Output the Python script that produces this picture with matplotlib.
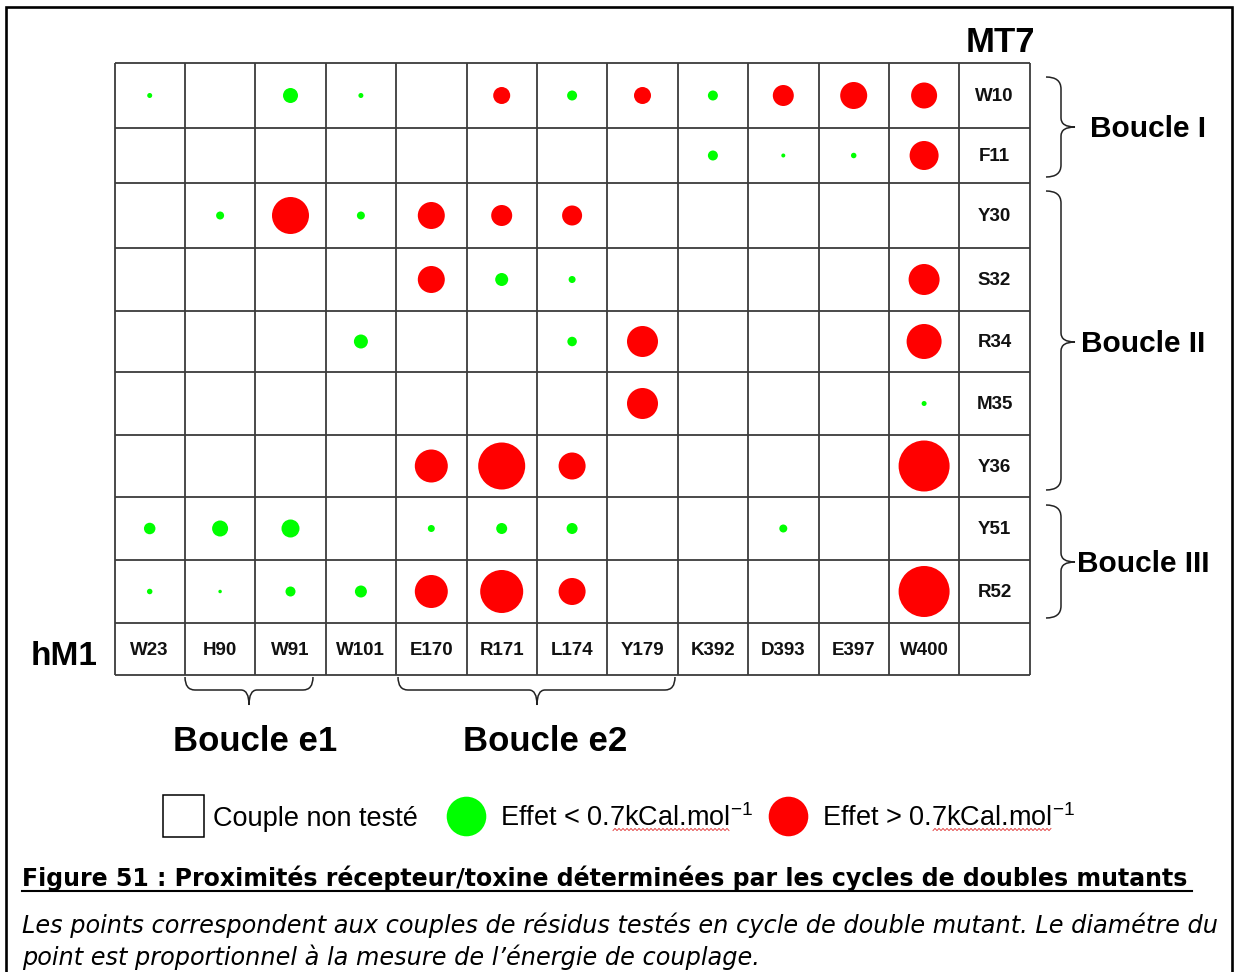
import numpy as np
import matplotlib.pyplot as plt
from matplotlib.patches import Rectangle, Circle, PathPatch
from matplotlib.path import Path

plt.rcParams['font.family'] = ['Liberation Sans', 'DejaVu Sans']

# résidus du récepteur hM1 (colonnes) et de la toxine MT7 (lignes)
recepteur = ['W23', 'H90', 'W91', 'W101', 'E170', 'R171', 'L174', 'Y179',
             'K392', 'D393', 'E397', 'W400']
toxine = ['W10', 'F11', 'Y30', 'S32', 'R34', 'M35', 'Y36', 'Y51', 'R52']

# couples testés : (toxine, récepteur, énergie de couplage -> diamètre du point)
effet_faible = [
    ('W10', 'W23', 5), ('W10', 'W91', 15), ('W10', 'W101', 5), ('W10', 'L174', 10),
    ('W10', 'K392', 10),
    ('F11', 'K392', 10), ('F11', 'D393', 4), ('F11', 'E397', 5.5),
    ('Y30', 'H90', 8), ('Y30', 'W101', 8),
    ('S32', 'R171', 13), ('S32', 'L174', 7),
    ('R34', 'W101', 14), ('R34', 'L174', 9.5),
    ('M35', 'W400', 5),
    ('Y51', 'W23', 11.5), ('Y51', 'H90', 16), ('Y51', 'W91', 18), ('Y51', 'E170', 7),
    ('Y51', 'R171', 11), ('Y51', 'L174', 11), ('Y51', 'D393', 8),
    ('R52', 'W23', 5.5), ('R52', 'H90', 3.5), ('R52', 'W91', 10), ('R52', 'W101', 12),
]
effet_fort = [
    ('W10', 'R171', 17), ('W10', 'Y179', 17), ('W10', 'D393', 21), ('W10', 'E397', 27),
    ('W10', 'W400', 26),
    ('F11', 'W400', 29),
    ('Y30', 'W91', 37), ('Y30', 'E170', 27), ('Y30', 'R171', 21), ('Y30', 'L174', 20),
    ('S32', 'E170', 27), ('S32', 'W400', 31),
    ('R34', 'Y179', 31), ('R34', 'W400', 35),
    ('M35', 'Y179', 31),
    ('Y36', 'E170', 33), ('Y36', 'R171', 47), ('Y36', 'L174', 27), ('Y36', 'W400', 51),
    ('R52', 'E170', 33), ('R52', 'R171', 43), ('R52', 'L174', 27), ('R52', 'W400', 51),
]

boucles_toxine = [('Boucle I', 'W10', 'F11'), ('Boucle II', 'Y30', 'Y36'),
                  ('Boucle III', 'Y51', 'R52')]
boucles_recepteur = [('Boucle e1', 'H90', 'W91'), ('Boucle e2', 'E170', 'Y179')]

VERT = '#00ff00'
ROUGE = '#ff0000'

# géométrie du tableau (en pixels)
x0, larg_col = 114.5, 70.4
haut_lignes = [65, 55, 65, 63, 61, 63, 62, 63, 63, 52]
bords_y = 63 + np.concatenate([[0], np.cumsum(haut_lignes)])
bords_x = x0 + larg_col * np.arange(len(recepteur) + 2)

fig = plt.figure(figsize=(12.38, 9.72), dpi=100)
ax = fig.add_axes([0, 0, 1, 1])
ax.set_xlim(0, 1238)
ax.set_ylim(972, 0)
ax.axis('off')

# cadre
ax.plot([6, 6, 1232, 1232], [980, 7, 7, 980], color='black', lw=1.9,
        solid_joinstyle='miter')

# grille
ax.hlines(bords_y, bords_x[0], bords_x[-1], color='#3c3c3c', lw=1.3)
ax.vlines(bords_x, bords_y[0], bords_y[-1], color='#3c3c3c', lw=1.3)


def centre(t, r):
    i = toxine.index(t)
    j = recepteur.index(r)
    return (bords_x[j] + bords_x[j + 1]) / 2, (bords_y[i] + bords_y[i + 1]) / 2


for couples, coul in [(effet_faible, VERT), (effet_fort, ROUGE)]:
    for t, r, d in couples:
        ax.add_patch(Circle(centre(t, r), d / 2, color=coul, lw=0))

# étiquettes des résidus
xc_lab = (bords_x[-2] + bords_x[-1]) / 2
for i, t in enumerate(toxine):
    ax.text(xc_lab, (bords_y[i] + bords_y[i + 1]) / 2 + 1, t, ha='center', va='center',
            fontsize=13.5, fontweight='bold', color='#111111')
yc_lab = (bords_y[-2] + bords_y[-1]) / 2 + 1
for j, r in enumerate(recepteur):
    ax.text((bords_x[j] + bords_x[j + 1]) / 2, yc_lab, r, ha='center', va='center',
            fontsize=13.5, fontweight='bold', color='#111111')

ax.text(xc_lab + 6, 52, 'MT7', ha='center', va='baseline', fontsize=25,
        fontweight='bold')
ax.text(64, 665, 'hM1', ha='center', va='baseline', fontsize=24, fontweight='bold')


def accolade(a_bout, a_tige, a_pointe, b_debut, b_fin, b_pointe, r1=12, r2=9,
             vertical=True):
    pts = [(a_bout, b_debut), (a_tige, b_debut), (a_tige, b_debut + r1),
           (a_tige, b_pointe - r2), (a_tige, b_pointe), (a_pointe, b_pointe),
           (a_tige, b_pointe), (a_tige, b_pointe + r2),
           (a_tige, b_fin - r1), (a_tige, b_fin), (a_bout, b_fin)]
    if not vertical:
        pts = [(b, a) for a, b in pts]
    codes = [Path.MOVETO, Path.CURVE3, Path.CURVE3, Path.LINETO, Path.CURVE3,
             Path.CURVE3, Path.CURVE3, Path.CURVE3, Path.LINETO, Path.CURVE3,
             Path.CURVE3]
    ax.add_patch(PathPatch(Path(pts, codes), fill=False, color='#222222', lw=1.1))


# accolades des boucles de la toxine
pos_boucles = {'Boucle I': (77, 177, 127, 1090, 137),
               'Boucle II': (191, 490, 342, 1081, 352),
               'Boucle III': (505, 618, 562, 1077, 572)}
for nom, t1, t2 in boucles_toxine:
    y1, y2, yp, xt, yt = pos_boucles[nom]
    accolade(1046, 1061, 1075, y1, y2, yp)
    ax.text(xt, yt, nom, ha='left', va='baseline', fontsize=21.5, fontweight='bold')

# accolades des boucles du récepteur
pos_e = {'Boucle e1': (185, 313, 249, 255), 'Boucle e2': (398, 675, 537, 545)}
for nom, r1, r2 in boucles_recepteur:
    xa, xb, xp, xt = pos_e[nom]
    accolade(677, 690, 705, xa, xb, xp, r1=10, r2=8, vertical=False)
    ax.text(xt, 751, nom, ha='center', va='baseline', fontsize=25, fontweight='bold')

# légende
ax.add_patch(Rectangle((162.5, 795), 41, 42, fill=False, ec='black', lw=1.1))
ax.text(213, 826, 'Couple non testé', ha='left', va='baseline', fontsize=19.5)
ax.add_patch(Circle((466.5, 816.5), 19.8, color=VERT, lw=0))
ax.text(500, 826, 'Effet < 0.7kCal.mol$^{\\mathregular{-1}}$', ha='left',
        va='baseline', fontsize=19.5)
ax.add_patch(Circle((788.5, 816.5), 19.8, color=ROUGE, lw=0))
ax.text(821.5, 826, 'Effet > 0.7kCal.mol$^{\\mathregular{-1}}$', ha='left',
        va='baseline', fontsize=19.5)
for xa, xb in [(613, 731), (933, 1052)]:
    xs = np.arange(xa, xb, 2.0)
    ax.plot(xs, 829.5 + 1.1 * (-1) ** np.arange(len(xs)), color='#e03030', lw=0.6)

# légende de la figure
titre = ax.text(22, 886, 'Figure 51 : Proximités récepteur/toxine déterminées par '
                'les cycles de doubles mutants', ha='left', va='baseline',
                family='DejaVu Sans', fontweight='bold', fontsize=16)
ligne1 = ax.text(22, 933, 'Les points correspondent aux couples de résidus testés '
                 'en cycle de double mutant. Le diamétre du', ha='left', va='baseline',
                 family='DejaVu Sans', style='italic', fontsize=16)
ligne2 = ax.text(22, 965, 'point est proportionnel à la mesure de l\u2019énergie de '
                 'couplage.', ha='left', va='baseline', family='DejaVu Sans',
                 style='italic', fontsize=16)

fig.canvas.draw()
rend = fig.canvas.get_renderer()
for txt, largeur in [(titre, 1170), (ligne1, 1202)]:
    bb = txt.get_window_extent(renderer=rend)
    txt.set_fontsize(txt.get_fontsize() * largeur / bb.width)
ligne2.set_fontsize(ligne1.get_fontsize())
ax.plot([22, 1192], [890.5, 890.5], color='black', lw=1.5)

fig.savefig('out.png', dpi=100)
